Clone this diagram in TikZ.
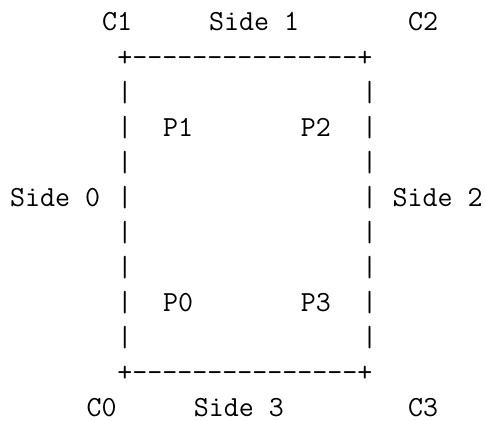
\documentclass[tikz,border=0pt]{standalone}
\newcommand{\colx}[1]{10.2+15.3*#1}
\newcommand{\rowy}[1]{-(31+35.05*#1)}
\newcommand{\hborder}{+-\kern0pt-\kern0pt-\kern0pt-\kern0pt-\kern0pt-\kern0pt-\kern0pt-\kern0pt-\kern0pt-\kern0pt-\kern0pt-\kern0pt-\kern0pt-\kern0pt-\kern0pt+}
\tikzset{
  tt/.style={inner sep=0pt, outer sep=0pt, anchor=base west,
    font=\fontsize{14.57pt}{17.5pt}\selectfont\ttfamily, text=black}
}
\begin{document}
\begin{tikzpicture}[x=0.5pt,y=0.5pt]
\useasboundingbox (0,0) rectangle (486,-421);
% row 0
\node[tt] (c1) at ({\colx{6}},{\rowy{0}}) {C1};
\node[tt] (side1) at ({\colx{13}},{\rowy{0}}) {Side 1};
\node[tt] (c2) at ({\colx{26}},{\rowy{0}}) {C2};
% borders
\node[tt] (top) at ({\colx{7}},{\rowy{1}}) {\hborder};
\node[tt] (bottom) at ({\colx{7}},{\rowy{10}}) {\hborder};
\foreach \k in {2,...,9} {
  \node[tt] (l\k) at ({\colx{7}},{\rowy{\k}}) {|};
  \node[tt] (r\k) at ({\colx{23}},{\rowy{\k}}) {|};
}
% interior
\node[tt] (p1) at ({\colx{10}},{\rowy{3}}) {P1};
\node[tt] (p2) at ({\colx{19}},{\rowy{3}}) {P2};
\node[tt] (p0) at ({\colx{10}},{\rowy{8}}) {P0};
\node[tt] (p3) at ({\colx{19}},{\rowy{8}}) {P3};
% sides
\node[tt] (side0) at ({\colx{0}},{\rowy{5}}) {Side 0};
\node[tt] (side2) at ({\colx{25}},{\rowy{5}}) {Side 2};
% row 11
\node[tt] (c0) at ({\colx{5}},{\rowy{11}}) {C0};
\node[tt] (side3) at ({\colx{12}},{\rowy{11}}) {Side 3};
\node[tt] (c3) at ({\colx{26}},{\rowy{11}}) {C3};
\end{tikzpicture}
\end{document}
